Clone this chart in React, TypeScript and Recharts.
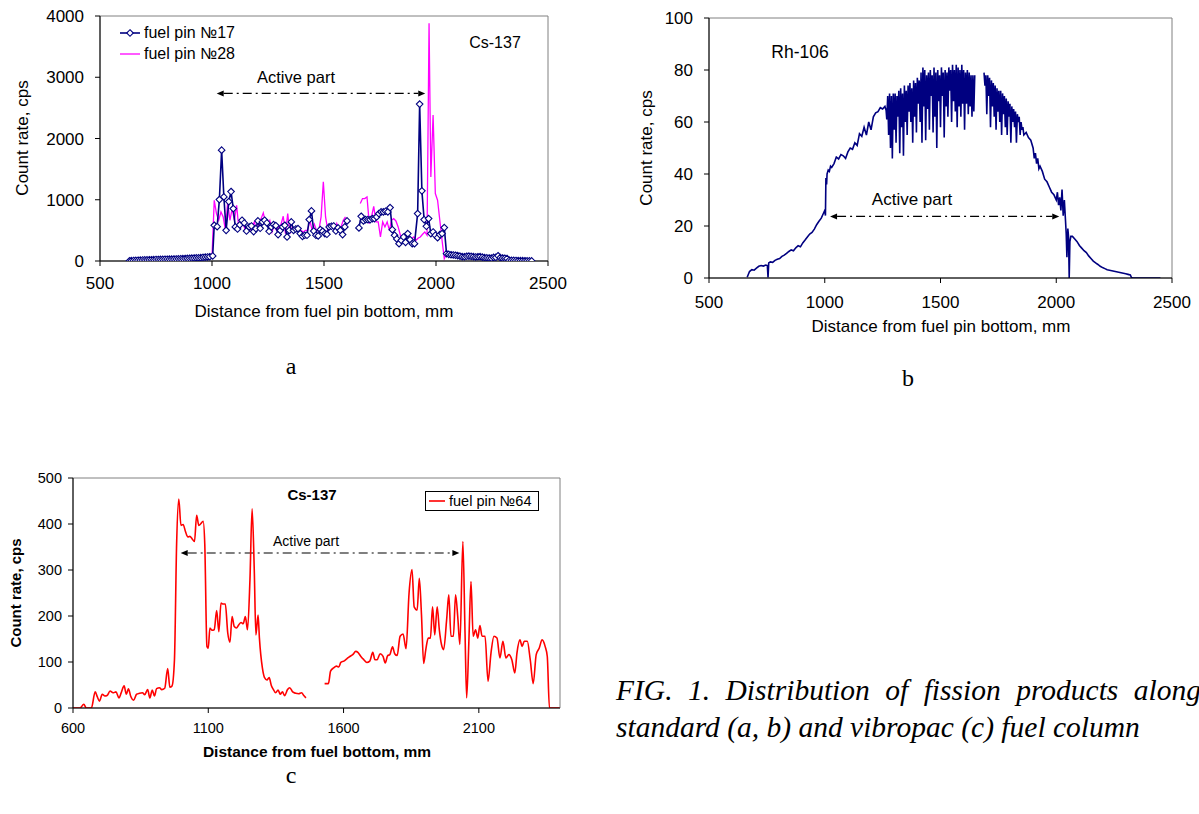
import React from 'react';
import { LineChart, Line, XAxis, YAxis, ReferenceLine, ReferenceArea, Legend } from 'recharts';

const FONT = "'Liberation Sans', Arial, Helvetica, sans-serif";
const SERIF = "'Liberation Serif', 'Times New Roman', serif";

type Pt = [number, number | null];

// ---------- Panel a: Cs-137, standard fuel pins ----------
const aXTicks = [500, 1000, 1500, 2000, 2500];
const aYTicks = [0, 1000, 2000, 3000, 4000];
const pin17: Pt[] = [
  [632,3],[640,5],[650,8],[660,10],[670,12],[680,14],[690,16],[700,18],[710,19],[720,20],[730,21],[740,22],[750,24],[760,25],[770,26],[780,27],[790,28],[800,29],[810,30],[820,31],[830,32],[840,33],[850,35],[860,36],[870,38],[880,40],[890,42],[900,44],[910,46],[920,48],[930,50],[940,52],[950,55],[960,58],[970,62],[980,66],[990,70],[1003,82],
  [1010,583],[1023,561],[1033,1003],[1043,1809],[1053,1046],[1063,501],[1075,970],[1085,1134],[1095,856],[1104,556],[1114,523],[1124,590],[1134,665],[1144,621],[1154,490],[1166,556],[1176,572],[1186,480],[1196,529],[1205,654],[1215,534],[1225,638],[1235,665],[1245,621],[1255,485],[1265,556],[1275,594],[1285,578],[1295,431],[1305,501],[1315,556],[1325,583],[1335,392],[1345,501],[1354,638],[1364,501],[1374,523],[1384,529],[1394,447],[1404,403],[1414,420],[1424,420],[1434,676],[1444,818],[1454,490],[1464,420],[1474,409],[1484,512],[1494,485],[1504,447],[1513,436],[1523,556],[1533,567],[1543,572],[1553,490],[1563,540],[1573,501],[1583,431],[1593,556],[1603,654],
  [1630,null],
  [1656,540],[1666,730],[1676,654],[1686,676],[1696,676],[1706,676],[1716,692],[1725,692],[1735,719],[1745,774],[1755,801],[1765,801],[1775,812],[1785,801],[1795,872],[1805,512],[1815,420],[1825,360],[1835,283],[1845,338],[1855,392],[1864,305],[1874,447],[1884,349],[1894,283],[1904,283],[1918,774],[1927,2562],[1937,1145],[1947,676],[1957,567],[1967,692],[1977,447],[1987,474],[1997,420],[2007,381],[2017,431],[2027,447],[2037,545],[2047,120],
  [2057,109],[2067,102],[2077,98],[2087,94],[2097,88],[2107,80],[2117,72],[2127,70],[2137,78],[2147,80],[2157,76],[2167,72],[2177,66],[2187,70],[2197,72],[2207,62],[2217,56],[2227,52],[2237,48],[2247,46],[2257,58],[2267,60],[2277,85],[2287,55],[2297,48],[2307,45],[2317,40],[2327,12],[2337,10],[2347,9],[2357,8],[2367,7],[2377,6],[2387,5],[2397,4],[2407,3],[2417,2],[2427,1]
];
const pin28: Pt[] = [
  [1000,65],[1010,990],[1020,774],[1030,665],[1040,801],[1050,719],[1060,501],[1070,964],[1080,665],[1090,856],[1100,665],[1110,910],[1119,556],[1129,556],[1139,610],[1149,501],[1159,529],[1169,501],[1179,556],[1189,638],[1199,501],[1209,610],[1219,692],[1229,785],[1238,638],[1248,599],[1258,665],[1268,474],[1278,583],[1288,501],[1298,556],[1308,599],[1318,730],[1328,447],[1338,774],[1348,447],[1358,556],[1368,529],[1378,501],[1387,474],[1397,501],[1407,474],[1417,501],[1427,501],[1437,665],[1447,501],[1457,599],[1467,490],[1477,501],[1487,719],[1497,1292],[1507,719],[1517,501],[1527,529],[1537,556],[1547,501],[1557,610],[1566,501],[1576,556],[1586,665],[1596,719],
  [1630,null],
  [1662,937],[1672,1019],[1682,1019],[1692,1046],[1702,610],[1712,719],[1722,893],[1732,638],[1742,638],[1752,392],[1762,638],[1772,556],[1782,638],[1792,501],[1801,665],[1811,692],[1821,654],[1831,556],[1841,420],[1851,392],[1861,365],[1871,447],[1881,381],[1891,365],[1901,392],[1911,338],[1921,376],[1930,392],[1940,436],[1950,474],[1960,420],[1969,3880],[1977,1373],[1987,2382],[1997,1101],[2007,992],[2017,665],[2027,338],[2037,38],[2047,120]
];
const aActive = { from: 1021, to: 1952, level: 2736 };

// ---------- Panel b: Rh-106 ----------
const bXTicks = [500, 1000, 1500, 2000, 2500];
const bYTicks = [0, 20, 40, 60, 80, 100];
const rh106: Pt[] = [
  [665,0.3],[675,2.5],[685,3.2],[695,3.0],[705,3.8],[715,4.5],[725,4.8],[735,4.6],[745,5.0],[752,4.8],[755,0.2],[758,5.8],[765,6.2],[775,6.0],[785,6.8],[795,7.2],[805,7.5],[815,8.3],[825,8.8],[835,9.5],[845,10.2],[855,10.8],[865,10.5],[875,11.6],[885,12.4],[895,12.0],[905,13.5],[915,14.6],[925,15.8],[935,16.9],[945,17.5],[955,18.8],[965,20.5],[975,21.8],[985,23.0],[995,25.0],[1000,26.0],[1003,24.0],[1005,38.5],[1008,36.0],[1010,40.0],[1015,41.5],[1020,41.0],[1025,43.0],[1030,42.5],[1040,44.0],[1050,46.5],[1060,45.8],[1070,47.5],[1080,47.0],[1090,46.0],[1100,48.5],[1110,50.0],[1120,49.5],[1130,52.0],[1140,51.0],[1150,55.5],[1160,54.5],[1170,58.0],[1180,55.0],[1190,60.0],[1200,57.0],[1210,62.0],[1220,63.5],[1230,64.0],[1240,65.5],[1250,65.0],[1260,66.0],[1265,64.5],
  [1268,61],[1272,70],[1276,55],[1280,71],[1284,50],[1288,70],[1292,46],[1296,71],[1300,57],[1304,71],[1308,52],[1312,70],[1316,62],[1320,72],[1324,48],[1328,73],[1332,58],[1336,71],[1340,47],[1344,74],[1348,60],[1352,72],[1356,55],[1360,74],[1364,64],[1368,75],[1372,60],[1376,73],[1380,52],[1384,76],[1388,62],[1392,75],[1396,56],[1400,77],[1404,67],[1408,76],[1412,60],[1416,79],[1420,52],[1424,81],[1428,66],[1432,80],[1436,53],[1440,78],[1444,65],[1448,79],[1452,57],[1456,80],[1460,70],[1464,78],[1468,56],[1472,81],[1476,62],[1480,79],[1484,50],[1488,80],[1492,68],[1496,78],[1500,58],[1504,81],[1508,70],[1512,79],[1516,54],[1520,80],[1524,66],[1528,79],[1532,62],[1536,81],[1540,72],[1544,80],[1548,60],[1552,82],[1556,68],[1560,80],[1564,64],[1568,82],[1572,58],[1576,81],[1580,66],[1584,80],[1588,62],[1592,82],[1596,67],[1600,80],[1604,57],[1608,79],[1612,67],[1616,80],[1620,63],[1624,79],[1628,66],[1632,78],[1636,62],[1640,78],[1644,64],[1648,78],
  [1668,null],
  [1688,79],[1692,74],[1696,78],[1700,63],[1704,78],[1708,70],[1712,77],[1716,58],[1720,76],[1724,66],[1728,75],[1732,62],[1736,74],[1740,57],[1744,73],[1748,64],[1752,72],[1756,60],[1760,72],[1764,55],[1768,71],[1772,63],[1776,70],[1780,58],[1784,69],[1788,55],[1792,68],[1796,62],[1800,67],[1804,52],[1808,66],[1812,60],[1816,65],[1820,58],[1824,64],[1828,52],[1832,63],[1836,60],[1840,62],[1844,55],[1848,60],[1852,57],[1856,58],[1860,55],
  [1870,56],[1880,54],[1890,53],[1900,50],[1905,46],[1910,48],[1915,44],[1920,46],[1925,42],[1930,43],[1940,41],[1950,38],[1960,37],[1970,35],[1980,33],[1990,32],[2000,30],[2005,33],[2010,28],[2015,31],[2020,26],[2025,34],[2030,24],[2035,30],[2040,22],[2043,17],[2046,8],[2050,19],[2053,16],[2056,0],[2059,14],[2063,16],[2070,16],[2080,15],[2090,14],[2100,12.5],[2110,11.5],[2120,10.5],[2130,9.8],[2140,8.5],[2150,7.5],[2160,6.5],[2170,5.8],[2180,5.2],[2190,4.5],[2200,4.0],[2210,3.6],[2220,3.2],[2230,3.0],[2240,2.8],[2250,2.6],[2260,2.4],[2270,2.2],[2280,2.0],[2290,1.8],[2300,1.6],[2310,1.4],[2320,1.2],[2325,0.2],[2330,0],[2450,0]
];
const bActive = { from: 1023, to: 2013, level: 23.7 };

// ---------- Panel c: Cs-137, vibropac fuel pin ----------
const cXTicks = [600, 1100, 1600, 2100];
const cYTicks = [0, 100, 200, 300, 400, 500];
const pin64: Pt[] = [
  [600,0],[626,0],[640,8],[649,0],[668,0],[682,35],[690,24],[698,15],[708,30],[718,26],[726,27],[737,37],[748,33],[759,35],[770,22],[778,33],[789,48],[797,30],[805,42],[813,26],[824,17],[835,30],[846,32],[857,33],[865,29],[876,40],[884,22],[893,39],[901,26],[909,42],[920,44],[928,40],[939,43],[950,86],[958,45],[966,48],[975,105],[983,357],[991,454],[999,397],[1007,399],[1016,383],[1024,372],[1032,373],[1040,368],[1049,362],[1057,419],[1065,397],[1073,401],[1081,406],[1087,357],[1095,134],[1100,130],[1106,174],[1114,169],[1122,170],[1131,212],[1139,166],[1147,228],[1155,226],[1163,226],[1172,163],[1180,143],[1188,199],[1196,177],[1204,174],[1213,181],[1221,186],[1229,183],[1237,199],[1245,170],[1254,278],[1262,433],[1270,300],[1276,159],[1284,202],[1289,152],[1300,87],[1308,66],[1317,61],[1325,66],[1333,49],[1341,40],[1349,33],[1358,39],[1366,30],[1374,35],[1382,27],[1393,40],[1401,44],[1412,35],[1423,32],[1434,31],[1445,33],[1453,27],[1461,22],
  [1495,null],
  [1530,53],[1544,53],[1552,80],[1563,87],[1574,91],[1582,89],[1590,99],[1601,102],[1612,107],[1623,112],[1634,116],[1645,123],[1653,121],[1664,112],[1675,105],[1686,99],[1697,102],[1708,121],[1716,105],[1724,105],[1735,118],[1746,112],[1754,98],[1763,114],[1771,116],[1781,133],[1789,118],[1798,114],[1809,156],[1820,161],[1831,129],[1842,249],[1853,301],[1861,220],[1872,213],[1880,282],[1888,203],[1896,97],[1904,127],[1913,152],[1921,152],[1929,220],[1937,159],[1946,220],[1954,170],[1962,138],[1970,127],[1981,192],[1989,246],[1997,156],[2006,156],[2014,246],[2022,199],[2030,138],[2041,362],[2049,163],[2055,22],[2063,141],[2071,275],[2079,156],[2088,170],[2096,152],[2104,179],[2112,156],[2123,156],[2134,58],[2145,120],[2156,156],[2167,152],[2178,109],[2189,145],[2200,109],[2211,116],[2222,105],[2233,76],[2241,120],[2252,148],[2260,134],[2268,145],[2279,145],[2290,105],[2301,53],[2312,116],[2323,130],[2334,148],[2345,134],[2353,112],[2361,0],[2398,0]
];
const cActive = { from: 998, to: 2028, level: 337 };

const rows = (pts: Pt[]) => pts.map(([x, y]) => ({ x, y }));

const Diamond = (props: any) => {
  const { cx, cy, index, payload } = props;
  if (cx == null || cy == null || payload == null || payload.y == null) return <g key={`dm${index}`} />;
  const s = 3.3;
  return (
    <path
      key={`dm${index}`}
      d={`M${cx},${cy - s}L${cx + s},${cy}L${cx},${cy + s}L${cx - s},${cy}Z`}
      fill="#fff"
      stroke="#000080"
      strokeWidth={1.1}
    />
  );
};

const Arrow = (props: any) => {
  const { x1, y1, x2, y2 } = props;
  const h = 7, w = 3;
  return (
    <g>
      <line x1={x1 + h} y1={y1} x2={x2 - h} y2={y2} stroke="#000" strokeWidth={1.2} strokeDasharray="9 4 2 4" />
      <path d={`M${x1},${y1}L${x1 + h},${y1 - w}L${x1 + h},${y1 + w}Z`} fill="#000" />
      <path d={`M${x2},${y2}L${x2 - h},${y2 - w}L${x2 - h},${y2 + w}Z`} fill="#000" />
    </g>
  );
};

const Txt = ({ x, y, children, size, bold, rotate, family, italic }: any) => (
  <div
    style={{
      position: 'absolute', left: x, top: y, whiteSpace: 'nowrap',
      transform: `translate(-50%, -50%)${rotate ? ` rotate(${rotate}deg)` : ''}`,
      fontFamily: family || FONT, fontSize: size, fontWeight: bold ? 700 : 400,
      fontStyle: italic ? 'italic' : 'normal', color: '#000', lineHeight: 1,
    }}
  >
    {children}
  </div>
);

const axisStroke = { stroke: '#000', strokeWidth: 1 };

export default function App() {
  return (
    <div style={{ position: 'absolute', left: 0, top: 0, width: 1199, height: 814, overflow: 'hidden', background: '#fff' }}>
      {/* Panel a */}
      <div style={{ position: 'absolute', left: 0, top: 0 }}>
        <LineChart width={590} height={330} margin={{ top: 16, right: 42, bottom: 0, left: 0 }}>
          <XAxis type="number" dataKey="x" domain={[500, 2500]} ticks={aXTicks} allowDataOverflow
            tick={{ fontSize: 17, fontFamily: FONT, fill: '#000' }} tickLine={axisStroke} axisLine={axisStroke}
            tickSize={5} tickMargin={11} height={69} />
          <YAxis type="number" domain={[0, 4000]} ticks={aYTicks} allowDataOverflow width={100}
            tick={{ fontSize: 17, fontFamily: FONT, fill: '#000' }} tickLine={axisStroke} axisLine={axisStroke}
            tickSize={5} tickMargin={11} />
          <ReferenceArea x1={500} x2={2500} y1={0} y2={4000} fill="none" stroke="#808080" strokeWidth={1} />
          <ReferenceLine segment={[{ x: aActive.from, y: aActive.level }, { x: aActive.to, y: aActive.level }]} shape={Arrow} />
          <Line data={rows(pin28)} dataKey="y" name="fuel pin №28" type="linear" stroke="#FF00FF" strokeWidth={1.3} dot={false} isAnimationActive={false} connectNulls={false} />
          <Line data={rows(pin17)} dataKey="y" name="fuel pin №17" type="linear" stroke="#000080" strokeWidth={1.6} dot={Diamond} isAnimationActive={false} connectNulls={false} />
          <Legend layout="vertical" align="center" verticalAlign="middle"
            wrapperStyle={{ left: 120, top: 22, width: 140 }}
            content={() => (
              <div style={{ fontFamily: FONT, fontSize: 16, color: '#000' }}>
                <div style={{ display: 'flex', alignItems: 'center', height: 21 }}>
                  <svg width={20} height={12}>
                    <line x1={0} y1={6} x2={20} y2={6} stroke="#000080" strokeWidth={1.6} />
                    <path d="M10,2.7L13.3,6L10,9.3L6.7,6Z" fill="#fff" stroke="#000080" strokeWidth={1.1} />
                  </svg>
                  <span style={{ marginLeft: 4 }}>fuel pin №17</span>
                </div>
                <div style={{ display: 'flex', alignItems: 'center', height: 21 }}>
                  <svg width={20} height={12}>
                    <line x1={0} y1={6} x2={20} y2={6} stroke="#FF00FF" strokeWidth={1.3} />
                  </svg>
                  <span style={{ marginLeft: 4 }}>fuel pin №28</span>
                </div>
              </div>
            )} />
        </LineChart>
      </div>
      <Txt x={22} y={138} size={17} rotate={-90}>Count rate, cps</Txt>
      <Txt x={324} y={311} size={17}>Distance from fuel pin bottom, mm</Txt>
      <Txt x={495} y={43} size={16}>Cs-137</Txt>
      <Txt x={296} y={77} size={16.5}>Active part</Txt>
      <Txt x={291} y={366} size={24} family={SERIF}>a</Txt>

      {/* Panel b */}
      <div style={{ position: 'absolute', left: 600, top: 0 }}>
        <LineChart width={599} height={340} margin={{ top: 18, right: 27, bottom: 0, left: 0 }}>
          <XAxis type="number" dataKey="x" domain={[500, 2500]} ticks={bXTicks} allowDataOverflow
            tick={{ fontSize: 17, fontFamily: FONT, fill: '#000' }} tickLine={axisStroke} axisLine={axisStroke}
            tickSize={5} tickMargin={13} height={62} />
          <YAxis type="number" domain={[0, 100]} ticks={bYTicks} allowDataOverflow width={109}
            tick={{ fontSize: 17, fontFamily: FONT, fill: '#000' }} tickLine={axisStroke} axisLine={axisStroke}
            tickSize={5} tickMargin={11} />
          <ReferenceArea x1={500} x2={2500} y1={0} y2={100} fill="none" stroke="#808080" strokeWidth={1} />
          <ReferenceLine segment={[{ x: bActive.from, y: bActive.level }, { x: bActive.to, y: bActive.level }]} shape={Arrow} />
          <Line data={rows(rh106)} dataKey="y" name="Rh-106" type="linear" stroke="#000080" strokeWidth={1.6} dot={false} isAnimationActive={false} connectNulls={false} />
        </LineChart>
      </div>
      <Txt x={646} y={148} size={17} rotate={-90}>Count rate, cps</Txt>
      <Txt x={941} y={326} size={17}>Distance from fuel pin bottom, mm</Txt>
      <Txt x={800} y={53} size={17.5}>Rh-106</Txt>
      <Txt x={912} y={199} size={17}>Active part</Txt>
      <Txt x={908} y={378} size={24} family={SERIF}>b</Txt>

      {/* Panel c */}
      <div style={{ position: 'absolute', left: 0, top: 460 }}>
        <LineChart width={580} height={300} margin={{ top: 18, right: 20, bottom: 0, left: 0 }}>
          <XAxis type="number" dataKey="x" domain={[600, 2400]} ticks={cXTicks} allowDataOverflow
            tick={{ fontSize: 14.5, fontFamily: FONT, fill: '#000' }} tickLine={axisStroke} axisLine={axisStroke}
            tickSize={5} tickMargin={10} height={52} />
          <YAxis type="number" domain={[0, 500]} ticks={cYTicks} allowDataOverflow width={73}
            tick={{ fontSize: 14.5, fontFamily: FONT, fill: '#000' }} tickLine={axisStroke} axisLine={axisStroke}
            tickSize={5} tickMargin={6} />
          <ReferenceArea x1={600} x2={2400} y1={0} y2={500} fill="none" stroke="#808080" strokeWidth={1} />
          <ReferenceLine segment={[{ x: cActive.from, y: cActive.level }, { x: cActive.to, y: cActive.level }]} shape={Arrow} />
          <Line data={rows(pin64)} dataKey="y" name="fuel pin №64" type="monotone" stroke="#FF0000" strokeWidth={1.6} dot={false} isAnimationActive={false} connectNulls={false} />
          <Legend layout="vertical" align="center" verticalAlign="middle"
            wrapperStyle={{ left: 425, top: 31, width: 114 }}
            content={() => (
              <div style={{ boxSizing: 'border-box', width: 114, height: 20, border: '1px solid #000', display: 'flex', alignItems: 'center', fontFamily: FONT, fontSize: 14.5, color: '#000', background: '#fff' }}>
                <svg width={20} height={10} style={{ marginLeft: 3 }}>
                  <line x1={0} y1={5} x2={16} y2={5} stroke="#FF0000" strokeWidth={1.6} />
                </svg>
                <span>fuel pin №64</span>
              </div>
            )} />
        </LineChart>
      </div>
      <Txt x={15} y={593} size={15} bold rotate={-90}>Count rate, cps</Txt>
      <Txt x={317} y={752} size={15.5} bold>Distance from fuel bottom, mm</Txt>
      <Txt x={312} y={494} size={15} bold>Cs-137</Txt>
      <Txt x={306} y={541} size={14}>Active part</Txt>
      <Txt x={291} y={775} size={24} family={SERIF}>c</Txt>

      {/* Caption */}
      <div style={{ position: 'absolute', left: 616, top: 672, width: 585, fontFamily: SERIF, fontStyle: 'italic', fontSize: 29.5, lineHeight: '37px', textAlign: 'justify', color: '#000' }}>
        FIG. 1. Distribution of fission products along standard (a, b) and vibropac (c) fuel column
      </div>
    </div>
  );
}
